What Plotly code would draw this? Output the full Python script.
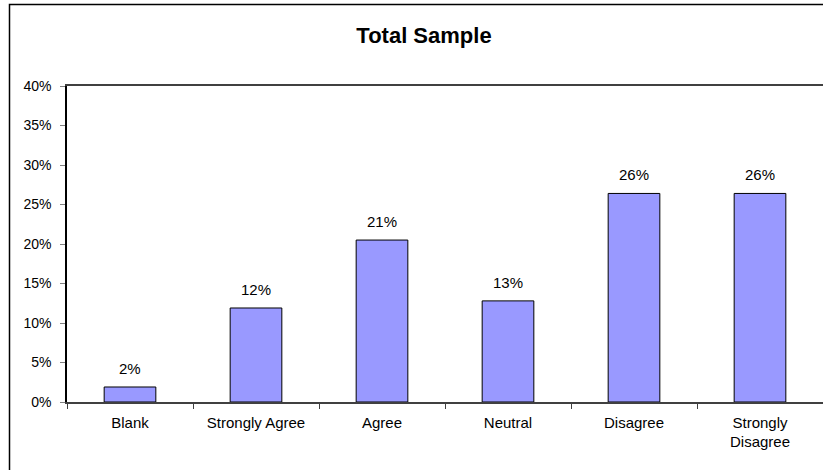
import plotly.graph_objects as go

categories = ["Blank", "Strongly Agree", "Agree", "Neutral", "Disagree", "Strongly<br>Disagree"]
shares = [1.9, 11.9, 20.5, 12.8, 26.4, 26.4]  # percent of total sample
labels = ["2%", "12%", "21%", "13%", "26%", "26%"]
y_ticks = [0, 5, 10, 15, 20, 25, 30, 35, 40]
y_tick_text = [f"{v}%" for v in y_ticks]

W, H = 823, 470
ML, MR, MT, MB = 67, 0, 86, 68
PW, PH = W - ML - MR, H - MT - MB
FONT = "Liberation Sans, Arial"

fig = go.Figure()
fig.add_trace(go.Bar(
    x=categories, y=shares, width=0.41,
    marker=dict(color="#9999FF", line=dict(color="#000000", width=1)),
    hoverinfo="skip",
))

for c, v, t in zip(categories, shares, labels):
    fig.add_annotation(x=c, y=v, text=t, showarrow=False, xref="x", yref="y",
                       yanchor="bottom", yshift=8,
                       font=dict(family=FONT, size=15, color="#000"))

# outer chart frame (extends past the right and bottom edges)
def px_x(p):
    return (p - ML) / PW

def px_y(p):
    return (H - MB - p) / PH

fig.add_shape(type="rect", xref="paper", yref="paper",
              x0=px_x(9.5), x1=px_x(840), y0=px_y(4.5), y1=px_y(490),
              line=dict(color="#000000", width=1.5), fillcolor="rgba(0,0,0,0)", layer="above")

fig.update_layout(
    width=W, height=H,
    margin=dict(l=ML, r=MR, t=MT, b=MB),
    paper_bgcolor="#ffffff", plot_bgcolor="#ffffff",
    showlegend=False,
    font=dict(family=FONT, size=15, color="#000"),
    title=dict(text="<b>Total Sample</b>", xref="container", yref="container",
               x=424 / W, xanchor="center", y=1 - 35 / H, yanchor="middle",
               font=dict(family=FONT, size=22, color="#000")),
    xaxis=dict(showgrid=False, showline=True, linecolor="#404040", linewidth=1.5,
               mirror=True, ticks="outside", tickson="boundaries", ticklen=5,
               tickcolor="#404040", tickfont=dict(size=15), ticklabelstandoff=6,
               fixedrange=True),
    yaxis=dict(range=[0, 40], tickvals=y_ticks, ticktext=y_tick_text,
               showgrid=False, showline=True, linecolor="#000000", linewidth=1.5,
               ticks="outside", ticklen=5, tickcolor="#808080",
               tickfont=dict(size=14), ticklabelstandoff=6,
               zeroline=False, fixedrange=True),
)

fig.write_html("out.html")
